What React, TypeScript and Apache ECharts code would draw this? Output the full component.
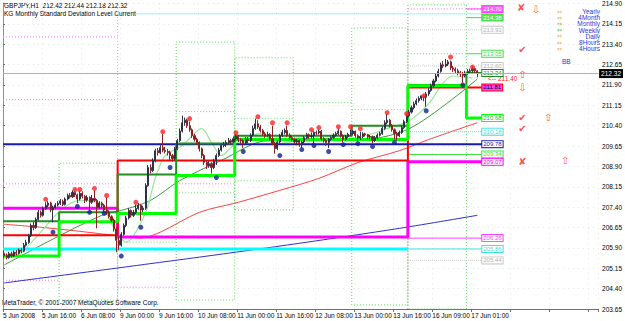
import React, { useEffect, useRef } from 'react';
import * as echarts from 'echarts';

const BASE = 203.65;
const Y_STEP = 0.75;
const Y_SPAN = 11.26;
const X_MAX = 244;
const X_STEP = 16;
const TIME_LABELS = ['5 Jun 2008', '5 Jun 16:00', '6 Jun 08:00', '9 Jun 00:00', '9 Jun 16:00', '10 Jun 08:00', '11 Jun 00:00', '11 Jun 16:00', '12 Jun 08:00', '13 Jun 00:00', '13 Jun 16:00', '16 Jun 09:00', '17 Jun 01:00'];

const OPEN_FIRST = 205.70;
const CLOSE = [
  205.62, 205.55, 205.68, 205.60, 205.74, 205.70, 205.82, 205.78, 206.00, 206.10,
  206.35, 206.73, 206.65, 206.95, 207.21, 207.10, 207.35, 207.47, 207.55, 207.30,
  207.39, 207.48, 207.54, 207.62, 207.50, 207.70, 207.83, 207.78, 207.94, 207.85,
  207.70, 207.91, 207.80, 207.66, 207.76, 207.58, 207.72, 207.65, 207.40, 207.55,
  207.47, 207.30, 207.21, 207.05, 206.92, 206.60, 206.18, 206.00, 206.40, 206.73,
  207.00, 207.28, 207.10, 207.21, 207.35, 207.47, 207.30, 207.36, 208.20, 208.86,
  208.75, 209.10, 209.48, 209.40, 209.59, 209.50, 209.45, 209.41, 209.30, 209.19,
  209.55, 209.85, 210.20, 210.51, 210.60, 210.40, 210.25, 210.03, 209.90, 209.78,
  209.55, 209.30, 209.05, 208.93, 209.00, 208.86, 209.10, 209.30, 209.50, 209.67,
  209.70, 209.78, 209.85, 209.80, 209.92, 210.00, 209.88, 209.85, 209.75, 209.90,
  209.85, 210.05, 210.30, 210.47, 210.35, 210.22, 210.10, 210.03, 210.08, 209.92,
  209.75, 209.56, 209.80, 210.03, 210.15, 210.22, 210.05, 209.96, 209.90, 209.80,
  209.85, 209.70, 209.80, 209.96, 210.07, 210.00, 210.03, 210.15, 210.14, 210.20,
  209.92, 209.85, 209.78, 209.90, 209.96, 210.05, 210.11, 210.20, 210.03, 209.90,
  210.00, 210.08, 210.11, 210.20, 210.03, 209.95, 210.00, 210.10, 210.07, 209.98,
  210.00, 209.85, 209.96, 210.05, 210.11, 210.30, 210.51, 210.60, 210.40, 210.25,
  210.11, 210.03, 210.15, 210.33, 210.55, 210.77, 210.90, 211.06, 211.20, 211.32,
  211.40, 211.50, 211.45, 211.57, 211.70, 211.87, 212.05, 212.23, 212.40, 212.64,
  212.60, 212.67, 212.75, 212.53, 212.48, 212.42, 212.35, 212.31, 212.25, 212.34,
  212.40, 212.42, 212.50, 212.42, 212.32,
];
const HIGH = [
  205.80, 205.70, 205.75, 205.76, 205.80, 205.82, 205.88, 205.90, 206.08, 206.20,
  206.42, 206.80, 206.85, 207.02, 207.30, 207.28, 207.42, 207.58, 207.62, 207.60,
  207.45, 207.55, 207.62, 207.70, 207.68, 207.76, 207.90, 207.92, 208.02, 208.00,
  207.90, 208.00, 207.98, 207.85, 207.84, 207.80, 207.85, 208.02, 207.70, 207.62,
  207.60, 207.52, 207.76, 207.28, 207.10, 206.98, 206.66, 206.30, 206.48, 206.80,
  207.08, 207.36, 207.32, 207.30, 207.50, 207.55, 207.52, 207.45, 208.28, 208.95,
  208.98, 209.20, 209.55, 209.58, 209.68, 210.10, 209.62, 209.55, 209.48, 209.36,
  209.62, 209.92, 210.30, 210.77, 210.70, 210.66, 210.55, 210.30, 210.10, 209.96,
  209.82, 209.60, 209.35, 209.12, 209.10, 209.06, 209.18, 209.38, 209.58, 209.74,
  209.80, 209.86, 209.95, 209.92, 210.00, 210.10, 210.06, 209.95, 209.90, 209.98,
  209.98, 210.12, 210.40, 210.66, 210.60, 210.42, 210.28, 210.16, 210.18, 210.12,
  210.40, 209.80, 209.88, 210.10, 210.25, 210.30, 210.40, 210.12, 210.02, 209.96,
  209.92, 209.90, 209.86, 210.02, 210.14, 210.12, 210.15, 210.20, 210.22, 210.26,
  210.24, 209.98, 209.90, 209.95, 210.04, 210.12, 210.18, 210.28, 210.22, 210.08,
  210.06, 210.14, 210.26, 210.24, 210.22, 210.08, 210.18, 210.16, 210.14, 210.10,
  210.06, 210.04, 210.02, 210.12, 210.18, 210.38, 210.60, 210.84, 210.65, 210.46,
  210.30, 210.18, 210.22, 210.40, 210.62, 210.84, 210.98, 211.14, 211.28, 211.40,
  211.48, 211.42, 211.40, 211.64, 211.78, 211.95, 212.12, 212.32, 212.50, 212.72,
  212.78, 212.86, 212.82, 212.80, 212.60, 212.55, 212.50, 212.42, 212.38, 212.42,
  212.48, 212.50, 212.58, 212.54, 212.44,
];
const LOW = [
  205.52, 205.48, 205.50, 205.54, 205.56, 205.62, 205.66, 205.70, 205.74, 205.95,
  206.05, 206.30, 206.55, 206.60, 206.90, 207.02, 207.05, 207.30, 207.40, 207.22,
  206.84, 207.32, 207.42, 207.48, 207.44, 207.46, 207.65, 207.72, 207.74, 207.78,
  207.55, 207.65, 207.72, 207.55, 207.60, 207.30, 207.52, 207.58, 206.62, 207.35,
  207.38, 207.22, 207.12, 206.98, 206.85, 206.50, 205.74, 205.82, 205.95, 206.35,
  206.66, 206.95, 207.02, 207.04, 207.15, 207.30, 206.90, 207.22, 207.30, 208.15,
  208.65, 208.70, 209.05, 209.30, 209.35, 209.42, 209.38, 209.30, 209.10, 209.08,
  209.12, 209.50, 209.80, 210.15, 210.40, 210.32, 210.18, 209.95, 209.82, 209.70,
  209.45, 209.20, 208.95, 208.80, 208.85, 208.64, 208.80, 208.95, 209.25, 209.45,
  209.60, 209.62, 209.72, 209.70, 209.75, 209.85, 209.80, 209.75, 209.58, 209.70,
  209.76, 209.80, 210.00, 210.25, 210.28, 210.15, 210.02, 209.95, 209.98, 209.85,
  209.68, 209.37, 209.50, 209.75, 209.98, 210.08, 209.98, 209.88, 209.82, 209.72,
  209.68, 209.62, 209.58, 209.74, 209.90, 209.92, 209.94, 209.72, 210.06, 210.08,
  209.86, 209.78, 209.66, 209.58, 209.84, 209.90, 210.00, 210.05, 209.96, 209.78,
  209.84, 209.95, 210.02, 210.05, 209.96, 209.80, 209.88, 209.94, 210.00, 209.90,
  209.90, 209.76, 209.80, 209.90, 210.00, 210.06, 210.25, 210.45, 210.33, 210.18,
  209.90, 209.85, 209.98, 210.10, 210.28, 210.50, 210.70, 210.85, 211.00, 211.15,
  211.25, 211.34, 211.30, 211.10, 211.50, 211.65, 211.80, 212.00, 212.18, 212.35,
  212.52, 212.55, 212.60, 212.45, 212.38, 212.33, 212.26, 212.20, 211.98, 212.18,
  212.28, 212.34, 212.36, 212.35, 212.18,
];

const RED_FRACTALS = [[17, 207.69], [29, 208.05], [31, 208.05], [37, 208.09], [42, 207.83], [54, 207.58], [65, 210.18], [76, 210.66], [95, 210.14], [104, 210.73], [110, 210.51], [116, 210.51], [126, 210.25], [129, 210.33], [137, 210.36], [142, 210.36], [146, 210.29], [157, 210.88], [165, 210.84], [172, 211.50], [183, 212.93], [192, 212.56]];
const BLUE_FRACTALS = [[20, 206.48], [30, 207.43], [35, 207.21], [41, 207.17], [48, 205.60], [56, 206.66], [68, 208.86], [87, 208.49], [98, 209.45], [113, 209.30], [122, 209.52], [127, 209.67], [133, 209.45], [139, 209.70], [145, 209.74], [151, 209.63], [160, 209.78], [173, 210.95], [188, 211.90]];

const MA_BLUE = [[0, 204.61], [80, 205.56], [121, 206.07], [162, 206.62], [194, 207.10]];
const MA_RED = [[0, 206.77], [15, 206.66], [31, 206.51], [48, 206.33], [56, 206.26], [64, 206.48], [80, 207.21], [96, 207.58], [113, 208.02], [129, 208.46], [145, 209.04], [162, 209.48], [174, 209.89], [194, 210.51]];
const MA_DKGREEN = [[0, 205.27], [19, 206.18], [40, 207.10], [48, 207.28], [60, 207.65], [72, 208.38], [89, 209.12], [108, 209.85], [121, 209.85], [142, 209.85], [166, 210.29], [194, 212.12]];
const MA_LTGREEN = [[0, 205.52], [7, 205.74], [15, 206.48], [23, 207.28], [31, 207.65], [39, 207.54], [46, 206.48], [50, 206.11], [58, 207.21], [62, 208.49], [66, 209.30], [73, 209.67], [81, 210.29], [85, 209.78], [89, 209.30], [94, 209.67], [105, 210.11], [113, 209.74], [121, 209.85], [133, 209.85], [145, 209.96], [157, 210.29], [166, 210.58], [174, 211.21], [180, 211.98], [184, 212.23], [192, 212.16]];

// step levels: [fromBar, toBar, price]
const LVL_LIME = [[0, 23, 205.60], [23, 47, 206.86], [47, 71, 207.17], [71, 95, 208.57], [95, 166, 209.89], [166, 190, 211.87], [190, 196.5, 210.68]];
const LVL_DKGREEN = [[0, 23, 206.88], [23, 47, 207.21], [47, 71, 208.60], [71, 95, 209.74], [95, 143, 210.03], [143, 166, 210.40], [166, 190, 211.90], [190, 196.5, 212.34]];
const LVL_RED = [[0, 47, 206.37], [47, 166, 209.12], [166, 196.5, 211.81]];
const LVL_MAGENTA = [[0, 47, 207.36], [47, 166, 206.30], [166, 196.5, 209.07]];
const LVL_CYAN = [[0, 166, 205.86]];
const LVL_CYAN_END = [[166, 196.5, 205.86]];
const LVL_BLUE = [[0, 196.5, 209.72]];
const LVL_MAGENTA2 = [[166, 196.5, 206.26]];
const LVL_CYAN_DOT = [[47, 196.5, 214.52]];
const LVL_CYAN2 = [[166, 196.5, 210.18]];
const LVL_LIME2 = [[166, 196.5, 209.34]];
const LVL_LIME3 = [[190, 196.5, 213.05]];
const LVL_LIME4 = [[190, 196.5, 214.38]];
const LVL_MAG_TOP = [[190, 196.5, 214.70]];
const LVL_GRAY1 = [[166, 196.5, 213.93]];
const LVL_GRAY2 = [[166, 196.5, 212.60]];
const LVL_GRAY3 = [[166, 196.5, 205.44]];

// dotted range boxes [fromBar, toBar, top, bottom]
const GREEN_BOXES = [[23, 47, 209.02, 203.98], [71, 95, 213.48, 203.98], [95, 119, 212.90, 207.30], [143, 166, 214.00, 203.80], [166, 190, 214.85, 203.65]];
const GREEN_DOTS = [[71, 95, 210.92], [95, 119, 210.67], [119, 143, 211.25], [143, 166, 210.99], [71, 95, 207.93], [95, 119, 208.37], [119, 143, 208.80], [0, 23, 207.36], [47, 71, 206.11], [166, 190, 213.05], [166, 190, 209.34]];
const MAGENTA_DOTS = [[0, 47, 208.26], [0, 23, 204.71], [47, 71, 204.45], [71, 95, 208.26], [0, 47, 213.67], [0, 47, 211.36], [166, 196.5, 214.70]];
const MAGENTA_VLINES = [47, 166];

const LAST_PRICE = 212.32;
const LEGEND_NAMES = ['Yearly', '4Month', 'Monthly', 'Weekly', 'Daily', '8Hours', '4Hours'];
const LEGEND_ICON_COLORS = ['#f0a030', '#f0a030', '#40c040', '#40c040', '#f0a030', '#f0a030', '#f0a030'];

// signal marks [bar, price, glyph]
const SIGNALS_RED = [[212.5, 214.75, '✘'], [218.5, 214.68, '⇩'], [213, 213.20, '✔'], [213, 212.28, '⇧'], [213, 211.80, '⇩'], [213, 210.72, '✔'], [223.5, 210.72, '⇧'], [213, 210.28, '✔'], [213, 209.10, '✘'], [230.5, 209.12, '⇧']];

const FONT = 'Liberation Sans, Arial, sans-serif';
const y = (p: number) => +(p - BASE).toFixed(4);

function stepData(segs: number[][]) {
  const out: number[][] = [];
  segs.forEach((s) => {
    out.push([s[0], y(s[2])]);
    out.push([s[1], y(s[2])]);
  });
  return out;
}

function level(segs: number[][], color: string, width: number, type: any, label?: string, textColor?: string, fill?: string) {
  return {
    type: 'line',
    data: stepData(segs),
    symbol: 'none',
    silent: true,
    lineStyle: { color, width, type },
    z: 3,
    endLabel: label
      ? {
          show: true,
          formatter: () => label,
          fontSize: 6,
          fontFamily: FONT,
          color: textColor || color,
          backgroundColor: fill || '#ffffff',
          borderColor: color,
          borderWidth: 1,
          padding: [0, 1, 0, 1],
          distance: 0,
        }
      : undefined,
  };
}

function rawLine(pts: number[][], color: string, type: any) {
  return {
    type: 'line',
    data: pts,
    symbol: 'none',
    silent: true,
    lineStyle: { color, width: 1, type },
    z: 1,
  };
}

function maLine(pts: number[][], color: string, width: number) {
  return {
    type: 'line',
    data: pts.map((p) => [p[0] + 0.5, y(p[1])]),
    symbol: 'none',
    smooth: 0.3,
    silent: true,
    lineStyle: { color, width },
    z: 2,
  };
}

export default function App() {
  const ref = useRef<HTMLDivElement>(null);
  useEffect(() => {
    document.body.style.margin = '0';
    if (!ref.current) return;
    const chart = echarts.init(ref.current, null, { renderer: 'svg' });
    const candles = CLOSE.map((c, i) => [i + 0.5, y(i === 0 ? OPEN_FIRST : CLOSE[i - 1]), y(c), y(LOW[i]), y(HIGH[i])]);
    const DOT: any = [1, 2];
    const dotted: any[] = [
      ...GREEN_BOXES.map((b) =>
        rawLine([[b[0], y(b[3])], [b[0], y(b[2])], [b[1], y(b[2])], [b[1], y(b[3])], [b[0], y(b[3])]], '#50d850', DOT)
      ),
      ...GREEN_DOTS.map((s) => rawLine([[s[0], y(s[2])], [s[1], y(s[2])]], '#70dc70', DOT)),
      ...MAGENTA_DOTS.map((s) => rawLine([[s[0], y(s[2])], [s[1], y(s[2])]], '#ff70ff', DOT)),
      ...MAGENTA_VLINES.map((b) => rawLine([[b, 0], [b, Y_SPAN]], '#ff90ff', DOT)),
    ];
    const option: any = {
      animation: false,
      backgroundColor: '#ffffff',
      grid: { left: 0, right: 23, top: 1, bottom: 12 },
      xAxis: {
        type: 'value',
        min: 0,
        max: X_MAX,
        interval: X_STEP,
        axisLine: { show: true, lineStyle: { color: '#707070', width: 1 } },
        axisTick: { show: true, length: 3, lineStyle: { color: '#707070' } },
        axisLabel: {
          show: true,
          align: 'left',
          margin: 3,
          fontSize: 6.5,
          fontFamily: FONT,
          color: '#000',
          formatter: (v: number) => (v % X_STEP === 0 && TIME_LABELS[v / X_STEP]) || '',
        },
        splitLine: { show: true, lineStyle: { color: '#dfeaea', type: [1, 4], width: 1 } },
      },
      yAxis: [
        {
          type: 'value',
          position: 'right',
          min: 0,
          max: Y_SPAN,
          interval: Y_STEP,
          axisLine: { show: true, lineStyle: { color: '#707070', width: 1 } },
          axisTick: { show: true, length: 2, lineStyle: { color: '#707070' } },
          axisLabel: {
            margin: 4,
            fontSize: 6.5,
            fontFamily: FONT,
            color: '#000',
            formatter: (v: number) => {
              const k = v / Y_STEP;
              return Math.abs(k - Math.round(k)) < 1e-6 ? (v + BASE).toFixed(2) : '';
            },
          },
          splitLine: { show: true, lineStyle: { color: '#dfeaea', type: [1, 4], width: 1 } },
        },
        {
          type: 'value',
          position: 'left',
          min: 0,
          max: Y_SPAN,
          axisLine: { show: true, onZero: false, lineStyle: { color: '#909090', width: 1 } },
          axisTick: { show: false },
          axisLabel: { show: false },
          splitLine: { show: false },
        },
      ],
      series: [
        ...dotted,
        level(LVL_CYAN_DOT, '#40e0e0', 1, 'dotted'),
        level(LVL_GRAY1, '#c8c8c8', 1, 'dotted', '213.93', '#b0b0b0'),
        level(LVL_GRAY2, '#c8c8c8', 1, 'dotted', '212.60', '#b0b0b0'),
        level(LVL_GRAY3, '#c8c8c8', 1, 'dotted', '205.44', '#b0b0b0'),
        level(LVL_MAG_TOP, '#ff40ff', 1, 'solid', '214.70', '#ffffff', '#ff60ff'),
        level(LVL_LIME4, '#40e040', 1, 'solid', '214.38', '#ffffff', '#60e060'),
        level(LVL_LIME3, '#40e040', 1, 'solid', '213.05'),
        level(LVL_CYAN2, '#40e0e0', 1, 'dotted', '210.18'),
        level(LVL_LIME2, '#40e040', 1, 'solid', '209.34'),
        level(LVL_MAGENTA2, '#ff40ff', 1, 'solid', '206.26'),
        level(LVL_CYAN_END, '#40e0e0', 1, 'solid', '205.86'),
        maLine(MA_BLUE, '#3030c8', 1),
        maLine(MA_RED, '#ff4040', 1),
        maLine(MA_DKGREEN, '#3c9a3c', 1),
        maLine(MA_LTGREEN, '#98e898', 1.2),
        level(LVL_CYAN, '#00ffff', 3, 'solid'),
        level(LVL_MAGENTA, '#ff00ff', 3, 'solid', '209.07'),
        level(LVL_RED, '#ff0000', 2, 'solid', '211.81', '#000000', '#ff40ff'),
        level(LVL_BLUE, '#1a1ab0', 2, 'solid', '209.78'),
        level(LVL_DKGREEN, '#1f8f1f', 2, 'solid', '212.34', '#1f8f1f'),
        level(LVL_LIME, '#00ff00', 3, 'solid', '210.68', '#20c020'),
        {
          type: 'candlestick',
          data: candles,
          encode: { x: 0, y: [1, 2, 3, 4] },
          barWidth: 1.6,
          silent: true,
          z: 4,
          itemStyle: { color: '#30304a', color0: '#8a2020', borderColor: '#30304a', borderColor0: '#8a2020', borderWidth: 1 },
          markLine: {
            symbol: 'none',
            silent: true,
            lineStyle: { color: '#b0b0b0', width: 1, type: 'solid' },
            label: {
              show: true,
              position: 'end',
              distance: 1,
              formatter: () => LAST_PRICE.toFixed(2),
              backgroundColor: '#000',
              color: '#fff',
              fontSize: 6.5,
              fontFamily: FONT,
              padding: [1, 2, 1, 2],
            },
            data: [{ yAxis: y(LAST_PRICE) }],
          },
        },
        {
          type: 'scatter',
          data: RED_FRACTALS.map((p) => [p[0] + 0.5, y(p[1])]),
          symbolSize: 5,
          silent: true,
          itemStyle: { color: '#ff2020' },
          z: 5,
        },
        {
          type: 'scatter',
          data: BLUE_FRACTALS.map((p) => [p[0] + 0.5, y(p[1])]),
          symbolSize: 5,
          silent: true,
          itemStyle: { color: '#10208c' },
          z: 5,
        },
        {
          type: 'scatter',
          data: SIGNALS_RED.map((s) => ({ value: [s[0], y(s[1] as number)], glyph: s[2] })),
          symbolSize: 0,
          silent: true,
          z: 6,
          label: {
            show: true,
            position: 'inside',
            formatter: (p: any) => p.data.glyph,
            color: '#ff2020',
            fontSize: 10,
            fontFamily: 'DejaVu Sans, sans-serif',
          },
        },
      ],
      graphic: [
        { type: 'text', left: 4, top: 2, style: { text: 'GBPJPY,H1  212.42 212.44 212.18 212.32', fontSize: 6.5, fontFamily: FONT, fill: '#000' } },
        { type: 'text', left: 4, top: 10, style: { text: 'KG Monthly Standard Deviation Level Current', fontSize: 6.5, fontFamily: FONT, fill: '#000' } },
        { type: 'text', left: 2, top: 299, style: { text: 'MetaTrader, © 2001-2007 MetaQuotes Software Corp.', fontSize: 6.5, fontFamily: FONT, fill: '#000' } },
        { type: 'text', left: 488, top: 75, style: { text: '<-- 211.40', fontSize: 6.5, fontFamily: FONT, fill: '#ff2020' } },
        { type: 'text', left: 562, top: 58, style: { text: 'BB', fontSize: 6.5, fontFamily: FONT, fill: '#3030e0' } },
        ...LEGEND_NAMES.map((n, i) => ({
          type: 'text',
          right: 25,
          top: 8 + i * 6.2,
          style: { text: n, fontSize: 6.5, fontFamily: FONT, fill: '#3030e0', align: 'right' },
        })),
        ...LEGEND_ICON_COLORS.map((c, i) => ({
          type: 'text',
          left: 557,
          top: 8 + i * 6.2,
          style: { text: '⇔', fontSize: 6, fontFamily: 'DejaVu Sans, sans-serif', fill: c },
        })),
      ],
    };
    chart.setOption(option);
    return () => chart.dispose();
  }, []);
  return <div ref={ref} style={{ width: 625, height: 321 }} />;
}
